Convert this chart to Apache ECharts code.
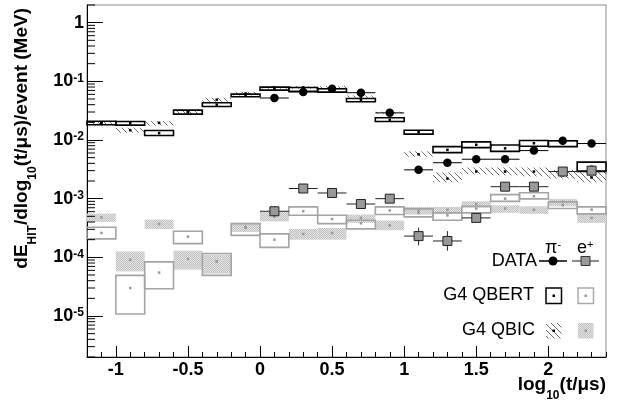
<!DOCTYPE html>
<html><head><meta charset="utf-8">
<script src="https://cdn.jsdelivr.net/npm/echarts@6/dist/echarts.min.js"></script>
<style>html,body{margin:0;padding:0;background:#fff}#c{width:622px;height:403px}</style>
</head><body><div id="c"></div>
<script>
// ---------------- data ----------------
const binCenters = [-1.1,-0.9,-0.7,-0.5,-0.3,-0.1,0.1,0.3,0.5,0.7,0.9,1.1,1.3,1.5,1.7,1.9,2.1,2.3];
const binHalf = 0.1;

// G4 QBERT, pi-
const piQbertVal = [0.0195,0.0193,0.0131,0.030,0.040,0.057,0.075,0.072,0.070,0.048,0.022,0.0136,0.0068,0.0083,0.0072,0.0088,0.0087,0.0035];
const piQbertLo  = [0.0182,0.0179,0.0119,0.0276,0.0373,0.0546,0.0708,0.0673,0.0654,0.0449,0.0207,0.0126,0.0061,0.0074,0.0064,0.0078,0.0077,0.0029];
const piQbertHi  = [0.0209,0.0207,0.0145,0.0323,0.0431,0.0605,0.0796,0.0787,0.0748,0.0510,0.0239,0.0147,0.0077,0.0093,0.0082,0.0098,0.0097,0.0042];
// G4 QBIC, pi-
const piQbicVal = [0.0193,0.0147,0.0196,0.030,0.0486,0.062,0.079,0.079,0.079,0.055,0.029,0.0057,0.0022,0.0029,0.0029,0.0029,0.0025,0.0023];
const piQbicLo  = [0.0177,0.0133,0.0177,0.0277,0.0449,0.0574,0.0748,0.0748,0.0755,0.0525,0.0280,0.0052,0.0019,0.0026,0.0025,0.0024,0.0022,0.0019];
const piQbicHi  = [0.0210,0.0162,0.0210,0.0325,0.0525,0.0665,0.0828,0.0828,0.0828,0.0574,0.0303,0.0064,0.0028,0.0034,0.0034,0.0034,0.0031,0.0029];
// G4 QBERT, e+
const eQbertVal = [2.6e-4,3.0e-5,5.5e-5,2.25e-4,8.5e-5,3.2e-4,2.0e-4,6.1e-4,4.5e-4,3.8e-4,6.3e-4,5.7e-4,5.2e-4,6.8e-4,1.0e-3,1.1e-3,7.7e-4,6.5e-4];
const eQbertLo  = [2.06e-4,1.08e-5,2.92e-5,1.71e-4,4.93e-5,2.37e-4,1.48e-4,5.21e-4,3.76e-4,3.05e-4,5.36e-4,4.89e-4,4.28e-4,5.73e-4,9.0e-4,9.9e-4,6.78e-4,5.51e-4];
const eQbertHi  = [3.25e-4,4.93e-5,8.36e-5,2.78e-4,1.16e-4,3.76e-4,2.51e-4,7.24e-4,5.21e-4,4.28e-4,7.24e-4,6.7e-4,5.73e-4,7.41e-4,1.17e-3,1.26e-3,8.81e-4,7.24e-4];
// G4 QBIC, e+
const eQbicVal = [4.8e-4,9.1e-5,3.7e-4,9.4e-5,8.5e-5,3.3e-4,4.95e-4,2.5e-4,2.6e-4,4.7e-4,3.5e-4,6.2e-4,6.45e-4,8.1e-4,6.8e-4,6.45e-4,8.8e-4,4.7e-4];
const eQbicLo  = [4.02e-4,5.77e-5,3.05e-4,6.17e-5,5.27e-5,2.71e-4,4.11e-4,2.0e-4,2.0e-4,3.86e-4,2.89e-4,5.36e-4,5.57e-4,6.97e-4,5.73e-4,5.51e-4,7.41e-4,3.86e-4];
const eQbicHi  = [5.57e-4,1.26e-4,4.40e-4,1.30e-4,1.11e-4,3.86e-4,5.96e-4,3.05e-4,3.18e-4,5.36e-4,4.23e-4,7.24e-4,7.24e-4,9.04e-4,7.71e-4,7.41e-4,9.93e-4,5.51e-4];

// DATA
const dataX = [0.1,0.3,0.5,0.7,0.9,1.1,1.3,1.5,1.7,1.9,2.1,2.3];
const piDataVal = [0.052,0.066,0.075,0.064,0.029,0.0031,0.0041,0.0047,0.0047,0.0066,0.0097,0.0087];
const piDataLo  = [0.049,0.062,0.071,0.057,0.027,0.0029,0.0038,0.0044,0.0044,0.0062,0.0091,0.0082];
const piDataHi  = [0.055,0.070,0.079,0.071,0.031,0.0033,0.0044,0.0050,0.0050,0.0070,0.0103,0.0092];
const eDataVal = [6.1e-4,1.49e-3,1.25e-3,8.1e-4,1.0e-3,2.3e-4,1.9e-4,4.7e-4,1.6e-3,1.6e-3,2.9e-3,3.0e-3];
const eDataLo  = [5.0e-4,1.35e-3,1.12e-3,7.2e-4,0.9e-3,1.6e-4,1.3e-4,3.9e-4,1.45e-3,1.45e-3,2.6e-3,2.7e-3];
const eDataHi  = [7.5e-4,1.65e-3,1.40e-3,9.0e-4,1.1e-3,3.2e-4,2.8e-4,5.7e-4,1.75e-3,1.75e-3,3.2e-3,3.3e-3];

// axes
const xMin = -1.2, xMax = 2.4;
const xTickLabels = [-1,-0.5,0,0.5,1,1.5,2];
const yMin = 2e-6, yMax = 2;
const yMinorMultipliers = [2,3,4,5,6,7,8,9];
const yDecadeExps = [-6,-5,-4,-3,-2,-1,0];

// ---------------- styling helpers ----------------
const FONT = '"Liberation Sans", Arial, Helvetica, sans-serif';
const yMinorTicks = [];
yDecadeExps.forEach(e => yMinorMultipliers.forEach(m => {
  const v = m * Math.pow(10, e);
  if (v >= yMin && v <= yMax) yMinorTicks.push(v);
}));

function hatchPattern() {
  const c = document.createElement('canvas');
  c.width = 6; c.height = 6;
  const g = c.getContext('2d');
  g.strokeStyle = '#505050'; g.lineWidth = 0.85;
  g.beginPath();
  g.moveTo(0, 0); g.lineTo(6, 6);
  g.moveTo(-3, 3); g.lineTo(3, 9);
  g.moveTo(3, -3); g.lineTo(9, 3);
  g.stroke();
  return c;
}
function dotPattern() {
  const c = document.createElement('canvas');
  c.width = 2; c.height = 2;
  const g = c.getContext('2d');
  g.fillStyle = '#e2e2e2'; g.fillRect(0, 0, 2, 2);
  g.fillStyle = '#c2c2c2'; g.fillRect(0, 0, 1, 1); g.fillRect(1, 1, 1, 1);
  return c;
}
const HATCH = { image: hatchPattern(), repeat: 'repeat' };
const DOTS = { image: dotPattern(), repeat: 'repeat' };

function boxSeries(name, vals, lo, hi, style, dotColor, dotSize) {
  return {
    type: 'custom', name, silent: true, animation: false, clip: false,
    data: binCenters.map((x, i) => [x, lo[i], hi[i], vals[i]]),
    encode: { x: 0, y: [1, 2, 3] },
    renderItem: (p, api) => {
      const x = api.value(0);
      const a = api.coord([x - binHalf, api.value(2)]);
      const b = api.coord([x + binHalf, api.value(1)]);
      const c = api.coord([x, api.value(3)]);
      return { type: 'group', children: [
        { type: 'rect', shape: { x: a[0], y: a[1], width: b[0] - a[0], height: b[1] - a[1] }, style: style },
        { type: 'rect', shape: { x: c[0] - dotSize / 2, y: c[1] - dotSize / 2, width: dotSize, height: dotSize }, style: { fill: dotColor } }
      ]};
    }
  };
}
function errSeries(name, xs, vals, lo, hi, color) {
  return {
    type: 'custom', name, silent: true, animation: false, clip: false,
    data: xs.map((x, i) => [x, vals[i], lo[i], hi[i]]),
    encode: { x: 0, y: [1, 2, 3] },
    renderItem: (p, api) => {
      const x = api.value(0);
      const l = api.coord([x - binHalf, api.value(1)]);
      const r = api.coord([x + binHalf, api.value(1)]);
      const t = api.coord([x, api.value(3)]);
      const b = api.coord([x, api.value(2)]);
      return { type: 'group', children: [
        { type: 'line', shape: { x1: l[0], y1: l[1], x2: r[0], y2: r[1] }, style: { stroke: color, lineWidth: 1 } },
        { type: 'line', shape: { x1: t[0], y1: t[1], x2: b[0], y2: b[1] }, style: { stroke: color, lineWidth: 1 } }
      ]};
    }
  };
}
const yMinorTickSeries = {
  type: 'custom', name: 'yMinor', silent: true, animation: false, clip: false,
  data: yMinorTicks.map(v => [xMin, v]),
  encode: { x: 0, y: 1 },
  renderItem: (p, api) => {
    const q = api.coord([xMin, api.value(1)]);
    return { type: 'line', shape: { x1: q[0], y1: q[1], x2: q[0] + 8, y2: q[1] }, style: { stroke: '#000', lineWidth: 1 } };
  }
};

const chart = echarts.init(document.getElementById('c'), null, { renderer: 'canvas' });
const gridL = 87, gridR = 16, gridT = 5, gridB = 46;

const titleRich = {
  m: { fontFamily: FONT, fontSize: 19, fontWeight: 'bold', lineHeight: 19, verticalAlign: 'top', fill: '#000', color: '#000' },
  sub: { fontFamily: FONT, fontSize: 12, fontWeight: 'bold', lineHeight: 12, padding: [14, 0, 0, 0], verticalAlign: 'top', fill: '#000', color: '#000' }
};
const supRich = {
  m: { fontFamily: FONT, fontSize: 18, lineHeight: 18, verticalAlign: 'bottom', fill: '#000', color: '#000' },
  s: { fontFamily: FONT, fontSize: 11, lineHeight: 12, verticalAlign: 'top', fill: '#000', color: '#000' }
};
const legendFont = '18px ' + FONT;

const option = {
  backgroundColor: '#fff',
  animation: false,
  grid: { left: gridL, right: gridR, top: gridT, bottom: gridB, show: true, borderColor: '#8a8a8a', borderWidth: 1, outerBoundsMode: 'none' },
  xAxis: [
    { type: 'value', min: xMin, max: xMax, interval: 0.1, position: 'bottom',
      axisLine: { show: true, onZero: false, lineStyle: { color: '#000', width: 1 } },
      axisTick: { show: true, inside: true, length: 5, lineStyle: { color: '#000' } },
      axisLabel: { show: false }, splitLine: { show: false } },
    { type: 'value', min: xMin, max: xMax, position: 'bottom',
      axisLine: { show: false, onZero: false },
      axisTick: { show: true, inside: true, length: 11, customValues: xTickLabels, lineStyle: { color: '#000' } },
      axisLabel: { show: true, customValues: xTickLabels, margin: 4, color: '#000', fontFamily: FONT, fontSize: 18, fontWeight: 'bold',
        formatter: v => String(Math.round(v * 10) / 10) },
      splitLine: { show: false } }
  ],
  yAxis: [
    { type: 'log', logBase: 10, min: yMin, max: yMax, splitNumber: 6, position: 'left',
      axisLine: { show: true, onZero: false, lineStyle: { color: '#000', width: 1 } },
      axisTick: { show: true, inside: true, length: 16, lineStyle: { color: '#000' } },
      axisLabel: { show: true, margin: 3, showMinLabel: false, showMaxLabel: false, color: '#000',
        formatter: v => { const e = Math.round(Math.log10(v)); return e === 0 ? '{b|1}' : '{b|10}{s|' + e + '}'; },
        rich: {
          b: { fontFamily: FONT, fontSize: 18, fontWeight: 'bold', lineHeight: 18, verticalAlign: 'bottom', color: '#000' },
          s: { fontFamily: FONT, fontSize: 12, fontWeight: 'bold', lineHeight: 12, verticalAlign: 'top', color: '#000' }
        } },
      splitLine: { show: false } }
  ],
  series: [
    boxSeries('G4 QBIC pi-', piQbicVal, piQbicLo, piQbicHi, { fill: HATCH, stroke: null }, '#000', 2.5),
    boxSeries('G4 QBIC e+', eQbicVal, eQbicLo, eQbicHi, { fill: DOTS, stroke: null }, '#999', 2.5),
    boxSeries('G4 QBERT pi-', piQbertVal, piQbertLo, piQbertHi, { fill: 'transparent', stroke: '#000', lineWidth: 1.6 }, '#000', 2.5),
    boxSeries('G4 QBERT e+', eQbertVal, eQbertLo, eQbertHi, { fill: 'transparent', stroke: '#a4a4a4', lineWidth: 1.6 }, '#999', 2.5),
    yMinorTickSeries,
    errSeries('DATA pi- err', dataX, piDataVal, piDataLo, piDataHi, '#000'),
    errSeries('DATA e+ err', dataX, eDataVal, eDataLo, eDataHi, '#222'),
    { type: 'scatter', name: 'DATA pi-', silent: true, animation: false, symbol: 'circle', symbolSize: 8.5,
      itemStyle: { color: '#000', opacity: 1 }, data: dataX.map((x, i) => [x, piDataVal[i]]), z: 5 },
    { type: 'scatter', name: 'DATA e+', silent: true, animation: false, symbol: 'rect', symbolSize: 9,
      itemStyle: { color: '#999', borderColor: '#222', borderWidth: 1, opacity: 1 }, data: dataX.map((x, i) => [x, eDataVal[i]]), z: 5 }
  ],
  graphic: [
    // y-axis title (ROOT style: aligned to the top end of the axis)
    { type: 'text', x: 22, y: 8, rotation: Math.PI / 2, silent: true,
      style: { text: '{m|dE}{sub|HIT}{m|/dlog}{sub|10}{m|(t/μs)/event (MeV)}',
        align: 'right', verticalAlign: 'middle', textAlign: 'right', textVerticalAlign: 'middle', rich: titleRich } },
    // x-axis title
    { type: 'text', x: 606, y: 385, silent: true,
      style: { text: '{m|log}{sub|10}{m|(t/μs)}',
        align: 'right', verticalAlign: 'middle', textAlign: 'right', textVerticalAlign: 'middle', rich: titleRich } },
    // legend headers
    { type: 'text', x: 545, y: 248, silent: true,
      style: { text: '{m|π}{s|-}', align: 'left', verticalAlign: 'middle', textAlign: 'left', textVerticalAlign: 'middle', rich: supRich } },
    { type: 'text', x: 577, y: 248, silent: true,
      style: { text: '{m|e}{s|+}', align: 'left', verticalAlign: 'middle', textAlign: 'left', textVerticalAlign: 'middle', rich: supRich } },
    // legend labels
    { type: 'text', x: 537, y: 261, silent: true, style: { text: 'DATA', font: legendFont, fill: '#000', align: 'right', verticalAlign: 'middle', textAlign: 'right', textVerticalAlign: 'middle' } },
    { type: 'text', x: 534, y: 295, silent: true, style: { text: 'G4 QBERT', font: legendFont, fill: '#000', align: 'right', verticalAlign: 'middle', textAlign: 'right', textVerticalAlign: 'middle' } },
    { type: 'text', x: 535, y: 330, silent: true, style: { text: 'G4 QBIC', font: legendFont, fill: '#000', align: 'right', verticalAlign: 'middle', textAlign: 'right', textVerticalAlign: 'middle' } },
    // legend symbols: DATA
    { type: 'line', silent: true, shape: { x1: 539, y1: 261, x2: 567, y2: 261 }, style: { stroke: '#000', lineWidth: 1.5 } },
    { type: 'circle', silent: true, shape: { cx: 553, cy: 261, r: 4.5 }, style: { fill: '#000' } },
    { type: 'line', silent: true, shape: { x1: 572, y1: 261, x2: 599, y2: 261 }, style: { stroke: '#666', lineWidth: 1.5 } },
    { type: 'rect', silent: true, shape: { x: 581, y: 256.5, width: 9, height: 9 }, style: { fill: '#999', stroke: '#333', lineWidth: 1 } },
    // QBERT
    { type: 'rect', silent: true, shape: { x: 546, y: 288, width: 15.5, height: 15.5 }, style: { fill: '#fff', stroke: '#000', lineWidth: 1.5 } },
    { type: 'rect', silent: true, shape: { x: 552.5, y: 294.5, width: 2.5, height: 2.5 }, style: { fill: '#000' } },
    { type: 'rect', silent: true, shape: { x: 578, y: 288, width: 15.5, height: 15.5 }, style: { fill: '#fff', stroke: '#aaa', lineWidth: 1.5 } },
    { type: 'rect', silent: true, shape: { x: 584.5, y: 294.5, width: 2.5, height: 2.5 }, style: { fill: '#999' } },
    // QBIC
    { type: 'rect', silent: true, shape: { x: 546, y: 323, width: 15.5, height: 15.5 }, style: { fill: HATCH } },
    { type: 'rect', silent: true, shape: { x: 552.5, y: 329.5, width: 2.5, height: 2.5 }, style: { fill: '#000' } },
    { type: 'rect', silent: true, shape: { x: 578, y: 323, width: 15.5, height: 15.5 }, style: { fill: DOTS } },
    { type: 'rect', silent: true, shape: { x: 584.5, y: 329.5, width: 2.5, height: 2.5 }, style: { fill: '#999' } }
  ]
};
chart.setOption(option);
</script>
</body></html>
